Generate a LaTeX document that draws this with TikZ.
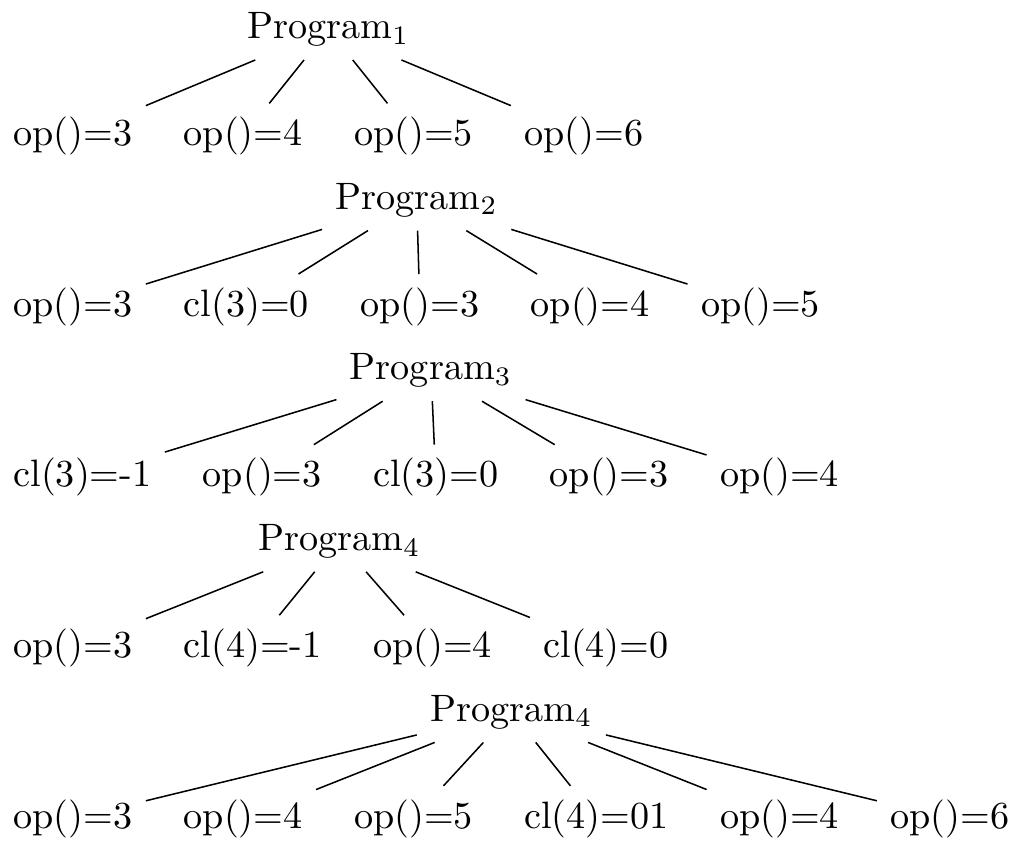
\documentclass[tikz,border=0pt]{standalone}
\usepackage{tikz}
\usetikzlibrary{positioning,calc}

\begin{document}
\begin{tikzpicture}[node distance=6.4pt]
  \useasboundingbox (0,0.98cm+7.72pt) rectangle ++(264.7pt,-220.2pt);
  % Program_1
  \node[anchor=west] (p1a) at (0,0) {op()=3};
  \node[right=of p1a] (p1b) {op()=4};
  \node[right=of p1b] (p1c) {op()=5};
  \node[right=of p1c] (p1d) {op()=6};
  \node (p1) at ($(p1a)!0.5!(p1d)+(0,0.98cm)$) {Program$_1$};
  \foreach \c in {p1a,p1b,p1c,p1d} \draw (p1) -- (\c);

  % Program_2
  \node[anchor=west] (p2a) at (0,-1.57) {op()=3};
  \node[right=of p2a] (p2b) {cl(3)=0};
  \node[right=of p2b] (p2c) {op()=3};
  \node[right=of p2c] (p2d) {op()=4};
  \node[right=of p2d] (p2e) {op()=5};
  \node (p2) at ($(p2a)!0.5!(p2e)+(0,0.98cm)$) {Program$_2$};
  \foreach \c in {p2a,p2b,p2c,p2d,p2e} \draw (p2) -- (\c);

  % Program_3
  \node[anchor=west] (p3a) at (0,-3.14) {cl(3)=-1};
  \node[right=of p3a] (p3b) {op()=3};
  \node[right=of p3b] (p3c) {cl(3)=0};
  \node[right=of p3c] (p3d) {op()=3};
  \node[right=of p3d] (p3e) {op()=4};
  \node (p3) at ($(p3a)!0.5!(p3e)+(0,0.98cm)$) {Program$_3$};
  \foreach \c in {p3a,p3b,p3c,p3d,p3e} \draw (p3) -- (\c);

  % Program_4
  \node[anchor=west] (p4a) at (0,-4.71) {op()=3};
  \node[right=of p4a] (p4b) {cl(4)=-1};
  \node[right=of p4b] (p4c) {op()=4};
  \node[right=of p4c] (p4d) {cl(4)=0};
  \node (p4) at ($(p4a)!0.5!(p4d)+(0,0.98cm)$) {Program$_4$};
  \foreach \c in {p4a,p4b,p4c,p4d} \draw (p4) -- (\c);

  % Program_4 (second)
  \node[anchor=west] (p5a) at (0,-6.28) {op()=3};
  \node[right=of p5a] (p5b) {op()=4};
  \node[right=of p5b] (p5c) {op()=5};
  \node[right=of p5c] (p5d) {cl(4)=01};
  \node[right=of p5d] (p5e) {op()=4};
  \node[right=of p5e] (p5f) {op()=6};
  \node (p5) at ($(p5a)!0.5!(p5f)+(0,0.98cm)$) {Program$_4$};
  \foreach \c in {p5a,p5b,p5c,p5d,p5e,p5f} \draw (p5) -- (\c);
\end{tikzpicture}
\end{document}
